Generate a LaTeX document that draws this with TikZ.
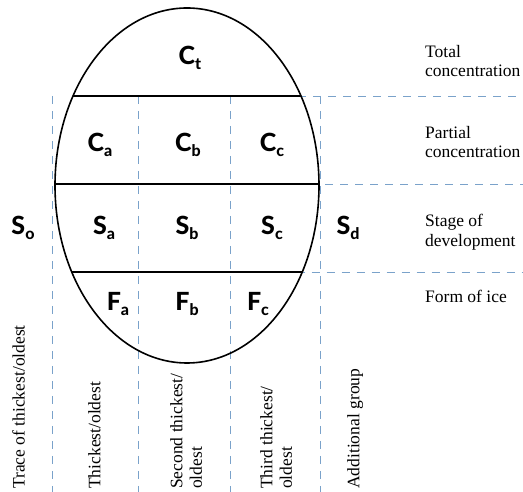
\documentclass[tikz,border=0pt]{standalone}
\usepackage{fontspec}
\setmainfont{Liberation Serif}
\newfontfamily\eggfont{Lato}[BoldFont={Lato Heavy}]
\usepackage{tikz}
\usetikzlibrary{calc}

\definecolor{gridblue}{RGB}{122,162,202}

% code letter with its lowered index
\newcommand{\eggcode}[2]{{\eggfont\bfseries\fontsize{25}{25}\selectfont #1\raisebox{-5pt}{\fontsize{16}{16}\selectfont #2}}}

\tikzset{
  grid line/.style={gridblue, line width=0.8pt, dash pattern=on 8pt off 7pt},
  chord/.style={black, line width=1.3pt},
  code/.style={anchor=base, inner sep=0pt},
  side text/.style={anchor=north west, inner sep=0pt, align=left, font=\fontsize{17.5}{19.5}\selectfont},
  column text/.style={anchor=north west, inner sep=0pt, align=left, rotate=90, font=\fontsize{17.5}{19.5}\selectfont}
}

\begin{document}
\begin{tikzpicture}[x=1pt, y=1pt]
        \useasboundingbox (0,0) rectangle (523,492);

        %egg
        \coordinate (o) at (187, 306.5);

        %chord ends
        \coordinate (ct l) at (73, 396);
        \coordinate (ct r) at (301, 396);
        \coordinate (cs l) at (55, 308);
        \coordinate (cs r) at (319, 308);
        \coordinate (sf l) at (71.7, 220);
        \coordinate (sf r) at (302.3, 220);

        %column tops and feet
        \coordinate (c0) at (52, 396);
        \coordinate (c0') at (52, 0);
        \coordinate (c1) at (138, 396);
        \coordinate (c1') at (138, 0);
        \coordinate (c2) at (230, 396);
        \coordinate (c2') at (230, 0);
        \coordinate (c3) at (320, 396);
        \coordinate (c3') at (320, 0);

        % Dashed grid
        \draw[grid line] (c0) -- (c0');
        \draw[grid line] (c1) -- (c1');
        \draw[grid line] (c2) -- (c2');
        \draw[grid line] (c3) -- (c3');

        \draw[grid line] (ct l) -- (ct l -| 523,0);
        \draw[grid line] (cs l) -- (cs l -| 523,0);
        \draw[grid line] (sf l) -- (sf l -| 523,0);

        % Draw the egg
        \draw[chord] (ct l) -- (ct r);
        \draw[chord] (cs l) -- (cs r);
        \draw[chord] (sf l) -- (sf r);
        \draw[line width=1.6pt] (o) ellipse [x radius=132, y radius=177.5];

        % Codes
        \node[code] (Ct) at (190, 427) {\eggcode{C}{t}};

        \node[code] (Ca) at (100, 340) {\eggcode{C}{a}};
        \node[code] (Cb) at (188, 340) {\eggcode{C}{b}};
        \node[code] (Cc) at (272, 340) {\eggcode{C}{c}};

        \node[code] (So) at (23, 257) {\eggcode{S}{o}};
        \node[code] (Sa) at (104, 257) {\eggcode{S}{a}};
        \node[code] (Sb) at (187, 257) {\eggcode{S}{b}};
        \node[code] (Sc) at (272, 257) {\eggcode{S}{c}};
        \node[code] (Sd) at (348, 257) {\eggcode{S}{d}};

        \node[code] (Fa) at (118, 181) {\eggcode{F}{a}};
        \node[code] (Fb) at (187, 181) {\eggcode{F}{b}};
        \node[code] (Fc) at (258, 181) {\eggcode{F}{c}};

        % Row names
        \node[side text] (total) at (425, 447) {Total\\concentration};
        \node[side text] (partial) at (425, 366) {Partial\\concentration};
        \node[side text] (stage) at (425, 278) {Stage of\\development};
        \node[side text] (form) at (425, 202) {Form of ice};

        % Column names
        \node[column text] (trace) at (12, 3) {Trace of thickest/oldest};
        \node[column text] (first) at (88, 3) {Thickest/oldest};
        \node[column text] (second) at (170, 3) {Second thickest/\\oldest};
        \node[column text] (third) at (260, 3) {Third thickest/\\oldest};
        \node[column text] (extra) at (347, 3) {Additional group};

    \end{tikzpicture}
\end{document}
